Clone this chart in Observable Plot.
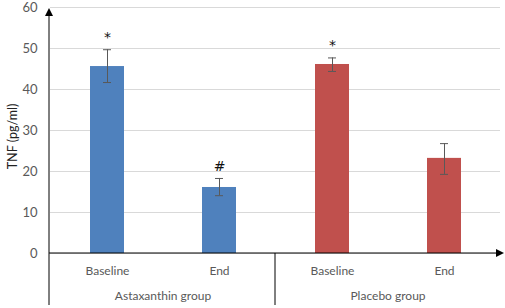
<!DOCTYPE html>
<html><head><meta charset="utf-8">
<script src="https://cdn.jsdelivr.net/npm/d3@7"></script>
<script src="https://cdn.jsdelivr.net/npm/@observablehq/plot@0.6"></script>
<style>body{margin:0;background:#fff} svg{display:block}</style>
</head><body><div id="chart"></div>
<script>
const groups = ["Astaxanthin group", "Astaxanthin group", "Placebo group", "Placebo group"];
const times = ["Baseline", "End", "Baseline", "End"];
const means = [45.6, 16.1, 46.1, 23.2];
const errLow = [41.7, 14.1, 44.4, 19.3];
const errHigh = [49.7, 18.3, 47.7, 26.8];
const sigMarks = ["*", "#", "*", ""];
const groupNames = ["Astaxanthin group", "Placebo group"];
const groupColors = ["#4F81BD", "#C0504D"];
const yTicks = [0, 10, 20, 30, 40, 50, 60];
const yTitle = "TNF (pg/ml)";

const data = means.map((m, i) => ({group: groups[i], time: times[i], mean: m, lo: errLow[i], hi: errHigh[i], sig: sigMarks[i]}));
const font = "Lato, 'Open Sans', sans-serif";
const ink = "#595959";

const plot = Plot.plot({
  width: 505, height: 308,
  marginLeft: 49, marginRight: 5, marginTop: 7, marginBottom: 55,
  style: {fontFamily: font, fontSize: "12px", color: ink, background: "#fff", overflow: "visible"},
  fx: {domain: groupNames, padding: 0, label: null},
  x: {domain: ["Baseline", "End"], paddingInner: 0.7, paddingOuter: 0.35, label: null},
  y: {domain: [0, 60], label: null},
  color: {domain: groupNames, range: groupColors},
  marks: [
    Plot.gridY(yTicks, {stroke: "#d9d9d9", strokeOpacity: 1}),
    Plot.barY(data, {fx: "group", x: "time", y: "mean", fill: "group"}),
    Plot.ruleX(data, {fx: "group", x: "time", y1: "lo", y2: "hi", stroke: ink}),
    Plot.tickY(data, {fx: "group", x: "time", y: "lo", stroke: ink, inset: 13}),
    Plot.tickY(data, {fx: "group", x: "time", y: "hi", stroke: ink, inset: 13}),
    Plot.text(data, {fx: "group", x: "time", y: "hi", text: "sig", dy: -12, fontSize: 14, fill: "#111", fontFamily: "'DejaVu Sans', sans-serif"}),
    Plot.axisY(yTicks, {tickSize: 0, tickPadding: 13, fontSize: 13, label: null, color: ink}),
    Plot.text([{fx: groupNames[0], t: yTitle}], {fx: "fx", text: "t", frameAnchor: "left", textAnchor: "middle", rotate: -90, dx: -38, dy: 6, fontSize: 12.5, fill: "#222"}),
    Plot.axisX({tickSize: 0, tickPadding: 13, label: null, color: ink}),
    Plot.axisFx({anchor: "bottom", tickSize: 0, tickPadding: 38, label: null, color: ink})
  ]
});
document.getElementById("chart").appendChild(plot);

// axis lines, arrows and group dividers derived from the scales
const fx = plot.scale("fx"), y = plot.scale("y");
const svg = d3.select(plot);
const y0 = y.apply(0), yTop = y.apply(60);
const left = fx.range[0], right = fx.range[1];
const bottom = 305;
const g = svg.append("g").attr("stroke", "#000").attr("stroke-width", 1);
g.append("line").attr("x1", left).attr("x2", left).attr("y1", yTop + 5).attr("y2", bottom);
g.append("line").attr("x1", left).attr("x2", right + 1).attr("y1", y0).attr("y2", y0);
for (const name of groupNames.slice(1)) {
  const xd = fx.apply(name);
  g.append("line").attr("x1", xd).attr("x2", xd).attr("y1", y0).attr("y2", bottom);
}
svg.append("path").attr("fill", "#000")
  .attr("d", `M${left},${yTop + 1}L${left - 4},${yTop + 9}L${left + 4},${yTop + 9}Z`);
svg.append("path").attr("fill", "#000")
  .attr("d", `M${right + 4},${y0}L${right - 4},${y0 - 4}L${right - 4},${y0 + 4}Z`);
</script>
</body></html>
